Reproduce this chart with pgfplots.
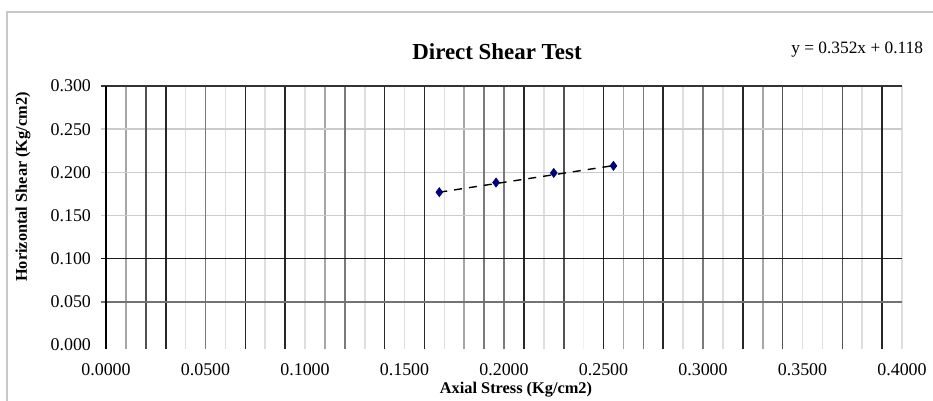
\documentclass[border=0pt]{standalone}
\usepackage{fontspec}
\setmainfont{Liberation Serif}
\usepackage{pgfplots}
\pgfplotsset{compat=1.18}
\definecolor{navyblue}{RGB}{0,0,128}
\definecolor{framegray}{RGB}{200,200,200}
\begin{document}
\begin{tikzpicture}
\path[use as bounding box] (0bp,0bp) rectangle (466.5bp,-200.5bp);
\draw[framegray, line width=1bp] (3.5bp,-201bp) -- (3.5bp,-6bp) -- (467bp,-6bp);
\node[font=\bfseries\fontsize{11.5}{13}\selectfont] at (248.5bp,-26bp) {Direct Shear Test};
\node[font=\fontsize{8.7}{10}\selectfont, anchor=east] at (465bp,-25bp) {y = 0.352x + 0.118};
\node[font=\bfseries\fontsize{8.2}{9}\selectfont] at (258bp,-195bp) {Axial Stress (Kg/cm2)};
\node[font=\bfseries\fontsize{8.2}{9}\selectfont, rotate=90] at (11.5bp,-93.5bp) {Horizontal Shear (Kg/cm2)};
\begin{axis}[
  at={(53bp,-43bp)}, anchor=north west,
  scale only axis, width=398bp, height=129.5bp,
  xmin=0, xmax=0.4, ymin=0, ymax=0.3,
  enlargelimits=false, clip=false,
  axis line style={draw=none}, tick style={draw=none},
  major tick length=0pt,
  xtick={0,0.05,0.1,0.15,0.2,0.25,0.3,0.35,0.4},
  ytick={0,0.05,0.1,0.15,0.2,0.25,0.3},
  scaled ticks=false,
  xticklabel style={/pgf/number format/.cd, fixed, fixed zerofill, precision=4, /tikz/.cd, font=\fontsize{9}{10}\selectfont, yshift=-6bp},
  yticklabel style={/pgf/number format/.cd, fixed, fixed zerofill, precision=3, /tikz/.cd, font=\fontsize{9}{10}\selectfont, xshift=-4bp},
  /pgf/number format/assume math mode=true,
]
% vertical grid lines, varying darkness as in the reference
\pgfplotsinvokeforeach{0.24}{\draw[black!6, line width=0.8bp] (axis cs:#1,-0.005) -- (axis cs:#1,0.3);}
\pgfplotsinvokeforeach{0.04,0.06,0.08,0.10,0.13,0.15,0.17,0.22,0.29,0.31,0.35,0.36,0.38,0.40}{\draw[black!13, line width=0.8bp] (axis cs:#1,-0.005) -- (axis cs:#1,0.3);}
\pgfplotsinvokeforeach{0.01,0.11,0.18,0.26,0.33}{\draw[black!35, line width=0.8bp] (axis cs:#1,-0.005) -- (axis cs:#1,0.3);}
% horizontal light lines
\pgfplotsinvokeforeach{0.15,0.2,0.25}{\draw[black!20, line width=0.8bp] (axis cs:-0.0025,#1) -- (axis cs:0.4,#1);}
\pgfplotsinvokeforeach{0.05,0.12,0.19,0.20,0.27,0.30}{\draw[black!52, line width=0.8bp] (axis cs:#1,-0.005) -- (axis cs:#1,0.3);}
\pgfplotsinvokeforeach{0.02,0.23,0.34,0.37}{\draw[black!68, line width=0.8bp] (axis cs:#1,-0.005) -- (axis cs:#1,0.3);}
\pgfplotsinvokeforeach{0.03,0.07,0.09,0.14,0.16,0.21,0.25,0.28,0.32,0.39}{\draw[black!85, line width=0.8bp] (axis cs:#1,-0.005) -- (axis cs:#1,0.3);}
\draw[black!55, line width=0.8bp] (axis cs:-0.0025,0.05) -- (axis cs:0.4,0.05);
\draw[black!90, line width=0.8bp] (axis cs:-0.0025,0.1) -- (axis cs:0.4,0.1);
\draw[black!80, line width=0.9bp] (axis cs:-0.0025,0.3) -- (axis cs:0.4,0.3);
\draw[black, line width=0.9bp] (axis cs:0,-0.005) -- (axis cs:0,0.3);
% trend line
\addplot[black, line width=0.7bp, dash pattern=on 4bp off 3.5bp] coordinates {(0.1675,0.1770) (0.2550,0.2078)};
% data
\addplot[only marks, mark=diamond*, mark size=2.2bp, navyblue, mark options={fill=navyblue, draw=navyblue}] coordinates {
(0.1675,0.1770) (0.1960,0.1882) (0.2250,0.1993) (0.2550,0.2075)};
\end{axis}
\end{tikzpicture}
\end{document}
